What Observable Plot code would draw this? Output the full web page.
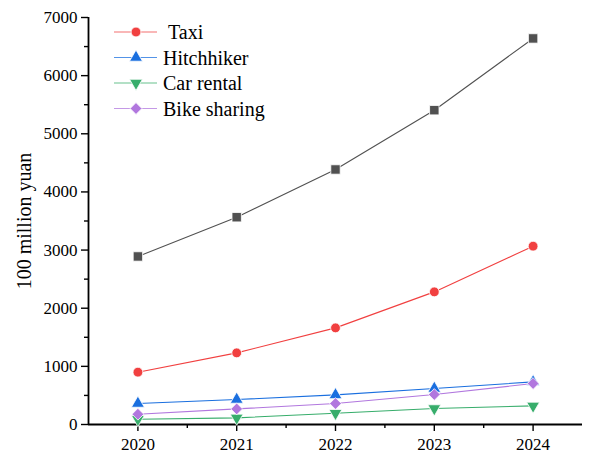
<!DOCTYPE html>
<html>
<head>
<meta charset="utf-8">
<script src="https://cdn.jsdelivr.net/npm/d3@7"></script>
<script src="https://cdn.jsdelivr.net/npm/@observablehq/plot@0.6"></script>
<style>
  body { margin: 0; background: #fff; }
  #chart { position: relative; width: 593px; height: 454px; font-family: "Liberation Serif", "Times New Roman", serif; }
  #legend { position: absolute; left: 0; top: 0; pointer-events: none; }
</style>
</head>
<body>
<div id="chart"></div>
<script>
// Years on the x axis
const years = [2020, 2021, 2022, 2023, 2024];

// Revenue by segment, 100 million yuan
const totalMarket = [2890, 3565, 4386, 5406, 6640];
const taxi        = [900, 1232, 1662, 2281, 3067];
const hitchhiker  = [361, 430, 509, 619, 733];
const carRental   = [91, 114, 194, 275, 320];
const bikeSharing = [177, 268, 361, 516, 705];

// Axis ticks
const yMajorTicks = [0, 1000, 2000, 3000, 4000, 5000, 6000, 7000];
const yMinorTicks = [500, 1500, 2500, 3500, 4500, 5500, 6500];
const xMinorTicks = [2020.5, 2021.5, 2022.5, 2023.5];

const serif = "Liberation Serif";

// Series styling: name, values, colour, symbol, radius, rotation, shown in legend
const series = [
  {name: "Total market", values: totalMarket, color: "#515151", symbol: "square",   r: 5.3, rotate: 0,   legend: false},
  {name: "Taxi",         values: taxi,        color: "#F14040", symbol: "circle",   r: 4.9, rotate: 0,   legend: true, label: "\u00a0Taxi"},
  {name: "Hitchhiker",   values: hitchhiker,  color: "#1A6FDF", symbol: "triangle", r: 4.8, rotate: 0,   legend: true},
  {name: "Car rental",   values: carRental,   color: "#37AD6B", symbol: "triangle", r: 4.8, rotate: 180, legend: true},
  {name: "Bike sharing", values: bikeSharing, color: "#B177DE", symbol: "diamond2", r: 5.3, rotate: 0,   legend: true}
];

const rows = series.flatMap(s => years.map((year, i) => ({year, series: s.name, value: s.values[i]})));

const marks = [
  // axis lines
  Plot.ruleX([2019.5], {stroke: "black", strokeWidth: 1.8}),
  Plot.ruleY([0], {stroke: "black", strokeWidth: 1.8}),
  // y axis: major and minor ticks, tick labels, title
  Plot.axisY(yMajorTicks, {tickSize: 7, strokeWidth: 1.4, tickFormat: () => "", label: null}),
  Plot.axisY(yMinorTicks, {tickSize: 4, strokeWidth: 1.4, tickFormat: () => "", label: null}),
  Plot.text(yMajorTicks, {
    y: d => d, frameAnchor: "left", dx: -11, textAnchor: "end", lineAnchor: "middle",
    text: d => String(d), fontSize: 17, fontFamily: serif, fill: "black"
  }),
  Plot.axisY([], {label: "100 million yuan", labelArrow: "none", labelAnchor: "center", labelOffset: 72, fontSize: 20, fontFamily: serif}),
  // x axis: years and half-year minor ticks
  Plot.axisX(years, {tickSize: 7, strokeWidth: 1.4, tickFormat: () => "", label: null}),
  Plot.axisX(xMinorTicks, {tickSize: 4, strokeWidth: 1.4, tickFormat: () => "", label: null}),
  Plot.text(years, {
    x: d => d, frameAnchor: "bottom", dy: 20, lineAnchor: "middle",
    text: d => String(d), fontSize: 17, fontFamily: serif, fill: "black"
  })
];

for (const s of series) {
  const data = rows.filter(d => d.series === s.name);
  marks.push(Plot.line(data, {x: "year", y: "value", stroke: s.color, strokeWidth: 1.1}));
}
for (const s of series) {
  const data = rows.filter(d => d.series === s.name);
  marks.push(Plot.dot(data, {
    x: "year", y: "value", fill: s.color, symbol: s.symbol, r: s.r,
    rotate: s.rotate, stroke: "white", strokeWidth: 0.8
  }));
}

const chart = Plot.plot({
  width: 593,
  height: 454,
  marginLeft: 88,
  marginRight: 11,
  marginTop: 17,
  marginBottom: 30,
  style: {fontFamily: "'Liberation Serif', 'Times New Roman', serif", color: "black", background: "white", overflow: "visible"},
  x: {domain: [2019.5, 2024.5], axis: null},
  y: {domain: [0, 7000], axis: null},
  marks
});

const container = document.getElementById("chart");
container.appendChild(chart);

// Legend inside the plot area, top left
const legendItems = series.filter(s => s.legend);
const legend = d3.create("svg")
  .attr("id", "legend")
  .attr("width", 300)
  .attr("height", 130)
  .style("font-family", "'Liberation Serif', 'Times New Roman', serif")
  .style("font-size", "20px");
const rowY = i => 32 + i * 25.5;
const item = legend.selectAll("g").data(legendItems).join("g")
  .attr("transform", (d, i) => `translate(0,${rowY(i)})`);
item.append("line")
  .attr("x1", 114).attr("x2", 157).attr("y1", 0).attr("y2", 0)
  .attr("stroke", d => d.color).attr("stroke-width", 1.1).attr("opacity", 0.75);
const symbolTypes = {circle: d3.symbolCircle, triangle: d3.symbolTriangle, diamond2: d3.symbolDiamond2, square: d3.symbolSquare};
item.append("path")
  .attr("d", d => d3.symbol(symbolTypes[d.symbol], Math.PI * d.r * d.r)())
  .attr("transform", d => `translate(136,0) rotate(${d.rotate})`)
  .attr("fill", d => d.color)
  .attr("stroke", "white").attr("stroke-width", 0.8);
item.append("text")
  .attr("x", 163).attr("y", 0).attr("dy", "0.35em")
  .attr("fill", "black")
  .text(d => d.label || d.name);
container.appendChild(legend.node());
</script>
</body>
</html>
